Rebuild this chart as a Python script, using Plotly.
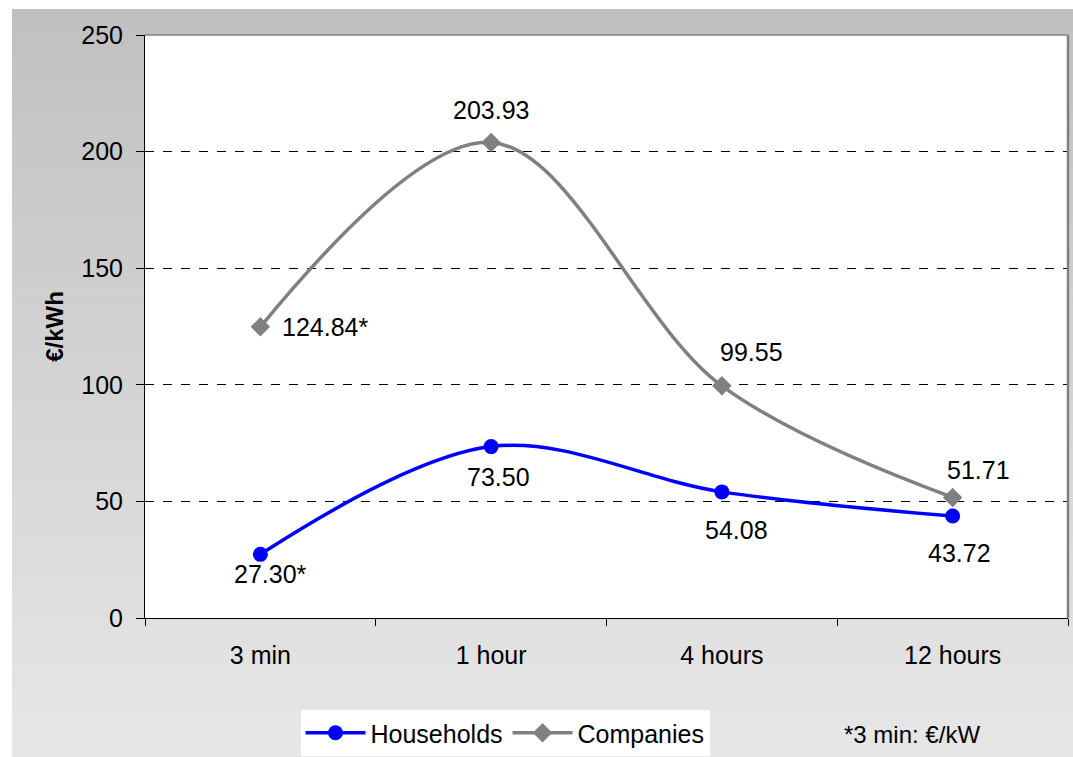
import plotly.graph_objects as go

# Storage duration categories and cost values (€/kWh; 3 min in €/kW)
categories = ["3 min", "1 hour", "4 hours", "12 hours"]
households = [27.30, 73.50, 54.08, 43.72]
companies = [124.84, 203.93, 99.55, 51.71]
households_labels = ["27.30*", "73.50", "54.08", "43.72"]
companies_labels = ["124.84*", "203.93", "99.55", "51.71"]
y_ticks = [0, 50, 100, 150, 200, 250]

W, H = 1073, 757
L, R, T, B = 145, 1068, 35, 618

def px_x(p):
    return (p - L) / (R - L)

def px_y(p):
    return (B - p) / (B - T)

FONT = "Liberation Sans, Arial, sans-serif"
FS = 25

fig = go.Figure()

fig.add_trace(go.Scatter(
    x=categories, y=households, name="Households",
    mode="lines+markers",
    line=dict(color="#0000FF", width=3.5, shape="spline", smoothing=1.0),
    marker=dict(symbol="circle", size=15, color="#0000FF"),
))
fig.add_trace(go.Scatter(
    x=categories, y=companies, name="Companies",
    mode="lines+markers",
    line=dict(color="#808080", width=3.5, shape="spline", smoothing=1.0),
    marker=dict(symbol="diamond", size=15, color="#808080"),
))

# Value labels
comp_offsets = [(20, 0, "left"), (0, 32, "center"), (30, 34, "center"), (26, 27, "center")]
hh_offsets = [(10, -20, "center"), (7, -30, "center"), (15, -38, "center"), (7, -37, "center")]
annotations = []
for cat, val, lab, (dx, dy, xa) in zip(categories, companies, companies_labels, comp_offsets):
    annotations.append(dict(x=cat, y=val, text=lab, showarrow=False, xshift=dx, yshift=dy,
                            xanchor=xa, yanchor="middle", font=dict(size=FS, color="black", family=FONT)))
for cat, val, lab, (dx, dy, xa) in zip(categories, households, households_labels, hh_offsets):
    annotations.append(dict(x=cat, y=val, text=lab, showarrow=False, xshift=dx, yshift=dy,
                            xanchor=xa, yanchor="middle", font=dict(size=FS, color="black", family=FONT)))

# Footnote
annotations.append(dict(xref="paper", yref="paper", x=px_x(842), y=px_y(734), text="*3 min: €/kW",
                        showarrow=False, xanchor="left", yanchor="middle",
                        font=dict(size=24, color="black", family=FONT)))

# Gradient background behind the chart area
shapes = []
n = 100
top, bottom = 9, H
for i in range(n):
    y0 = top + (bottom - top) * i / n
    y1 = top + (bottom - top) * (i + 1) / n + 0.6
    t = (i + 0.5) / n
    g = round(192 + (231 - 192) * t)
    shapes.append(dict(type="rect", xref="paper", yref="paper", layer="below",
                       x0=px_x(12), x1=px_x(W + 2), y0=px_y(y1), y1=px_y(y0),
                       fillcolor=f"rgb({g},{g},{g})", line=dict(width=0)))

# White plot area
shapes.append(dict(type="rect", xref="paper", yref="paper", layer="below",
                   x0=0, x1=1, y0=0, y1=1, fillcolor="white", line=dict(width=0)))

# Gray top and right frame of the plot area
shapes.append(dict(type="line", xref="paper", yref="paper", x0=0, x1=1, y0=1, y1=1,
                   line=dict(color="#808080", width=1.5)))
shapes.append(dict(type="line", xref="paper", yref="paper", x0=1, x1=1, y0=0, y1=1,
                   line=dict(color="#808080", width=2.5)))

fig.update_layout(
    width=W, height=H,
    margin=dict(l=L, r=W - R, t=T, b=H - B, autoexpand=False),
    paper_bgcolor="white",
    plot_bgcolor="white",
    font=dict(family=FONT, color="black"),
    showlegend=True,
    legend=dict(orientation="h", x=px_x(505), xanchor="center", y=px_y(710), yanchor="top",
                bgcolor="white", font=dict(size=FS, family=FONT), itemwidth=60,
                tracegroupgap=0),
    annotations=annotations,
    shapes=shapes,
)

fig.update_xaxes(
    type="category", range=[-0.5, 3.5], automargin=False,
    showline=True, linecolor="black", linewidth=1,
    ticks="outside", tickson="boundaries", ticklen=7, tickcolor="black",
    tickfont=dict(size=FS), ticklabelstandoff=15,
    showgrid=False, zeroline=False,
)
fig.update_yaxes(
    range=[0, 250], tickvals=y_ticks, automargin=False,
    showline=True, linecolor="black", linewidth=1,
    ticks="outside", ticklen=8, tickcolor="black",
    tickfont=dict(size=FS), ticklabelstandoff=8,
    showgrid=True, gridcolor="black", griddash="dash", gridwidth=1,
    zeroline=False,
    title=dict(text="<b>€/kWh</b>", font=dict(size=24), standoff=10),
)

fig.write_html("out.html")
